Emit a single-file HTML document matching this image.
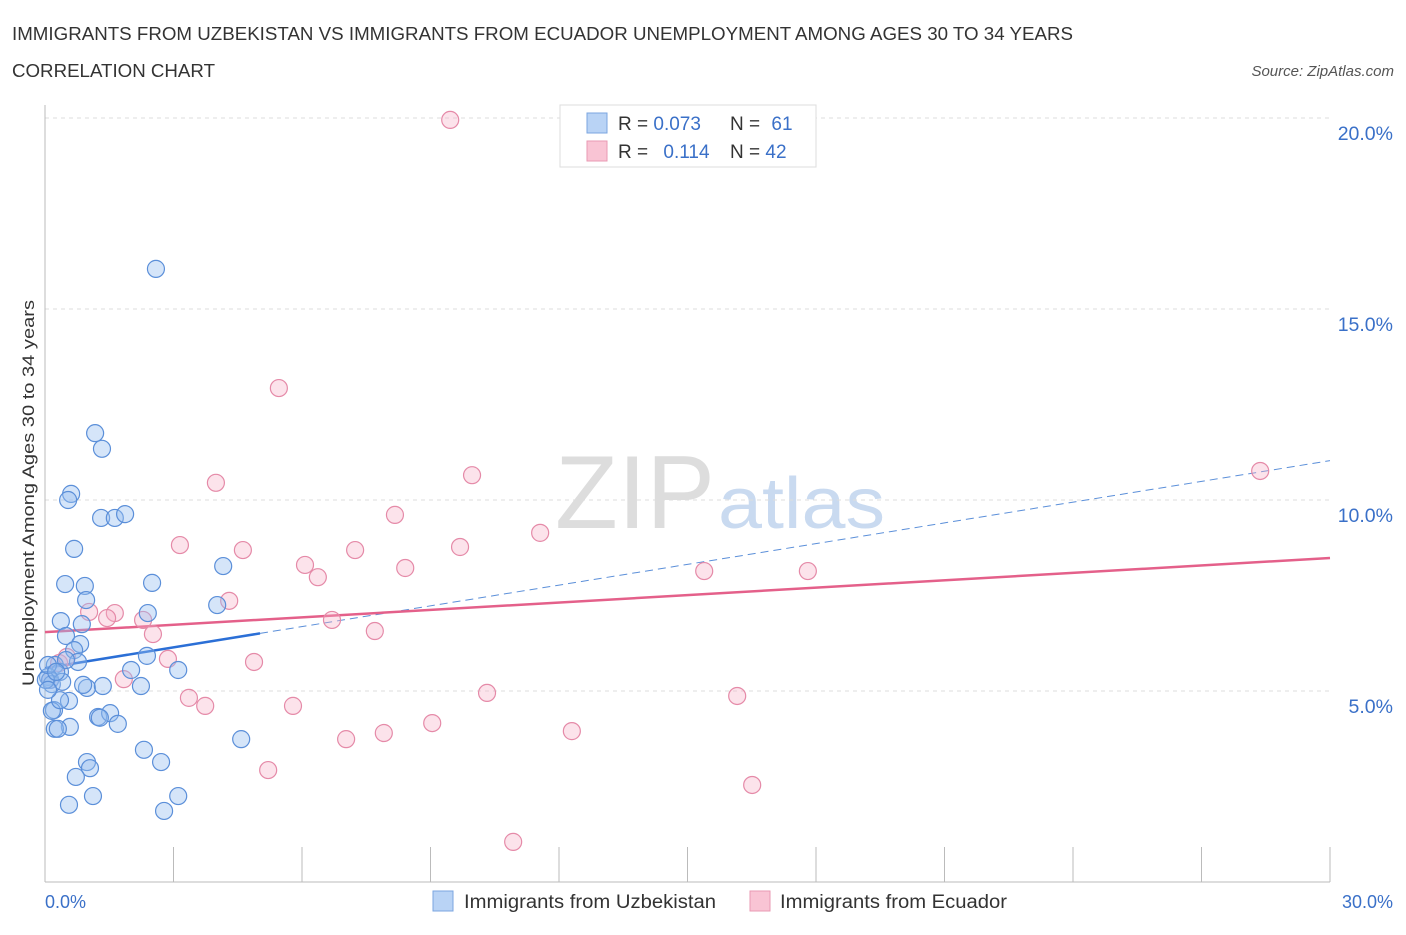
<!DOCTYPE html>
<html><head><meta charset="utf-8"><style>
body{margin:0;background:#fff;font-family:"Liberation Sans",sans-serif;}
svg text{font-family:"Liberation Sans",sans-serif;}
</style></head><body>
<svg id="chart" width="1406" height="930" viewBox="0 0 1406 930" xmlns="http://www.w3.org/2000/svg">
<text x="12" y="40" font-size="18" fill="#333" textLength="1061" lengthAdjust="spacingAndGlyphs">IMMIGRANTS FROM UZBEKISTAN VS IMMIGRANTS FROM ECUADOR UNEMPLOYMENT AMONG AGES 30 TO 34 YEARS</text>
<text x="12" y="77" font-size="18" fill="#333" textLength="203" lengthAdjust="spacingAndGlyphs">CORRELATION CHART</text>
<text x="1394" y="76" font-size="15" fill="#555" text-anchor="end" font-style="italic">Source: ZipAtlas.com</text>
<text x="555" y="528" font-size="104" fill="#ddd" font-family="Liberation Serif" textLength="160" lengthAdjust="spacingAndGlyphs">ZIP</text>
<text x="718" y="528" font-size="72" fill="#c9daf0" textLength="167" lengthAdjust="spacingAndGlyphs">atlas</text>
<g id="grid"></g>
<g id="axes"></g>
<g id="trends"></g>
<g id="points"></g>
<text transform="translate(34,493) rotate(-90)" font-size="17" fill="#333" text-anchor="middle" textLength="386" lengthAdjust="spacingAndGlyphs">Unemployment Among Ages 30 to 34 years</text>
<text x="45" y="908" font-size="18" fill="#3a70c8">0.0%</text>
<text x="1393" y="908" font-size="18" fill="#3a70c8" text-anchor="end">30.0%</text>
<g>
<rect x="560" y="105" width="256" height="62" fill="#fff" stroke="#ddd"/>
<rect x="587" y="113" width="20" height="20" fill="#b9d3f5" stroke="#7ba6e0"/>
<rect x="587" y="141" width="20" height="20" fill="#f9c4d4" stroke="#e99ab3"/>
<text x="618" y="130" font-size="19" fill="#333">R = <tspan fill="#3a70c8">0.073</tspan></text>
<text x="730" y="130" font-size="19" fill="#333">N = <tspan fill="#3a70c8" dx="6">61</tspan></text>
<text x="618" y="158" font-size="19" fill="#333">R = <tspan fill="#3a70c8" dx="10">0.114</tspan></text>
<text x="730" y="158" font-size="19" fill="#333">N = <tspan fill="#3a70c8">42</tspan></text>
</g>
<g>
<rect x="433" y="891" width="20" height="20" fill="#b9d3f5" stroke="#7ba6e0"/>
<text x="464" y="908" font-size="19" fill="#333" textLength="252" lengthAdjust="spacingAndGlyphs">Immigrants from Uzbekistan</text>
<rect x="750" y="891" width="20" height="20" fill="#f9c4d4" stroke="#e99ab3"/>
<text x="780" y="908" font-size="19" fill="#333" textLength="227" lengthAdjust="spacingAndGlyphs">Immigrants from Ecuador</text>
</g>
</svg>
<script>
const yTicks=[5,10,15,20];
const yTickLabels=["5.0%","10.0%","15.0%","20.0%"];
const xTicks=[0,3,6,9,12,15,18,21,24,27,30];
const blueX=[2.59,1.17,1.33,0.61,0.54,1.31,1.63,1.87,0.68,0.47,0.93,2.50,4.16,0.96,0.37,0.86,2.40,4.02,0.49,0.82,0.68,0.77,2.01,2.38,3.11,0.23,0.35,0.07,0.12,0.16,0.40,0.98,1.35,2.24,0.89,0.56,0.21,0.16,1.24,1.52,1.70,0.58,0.23,0.30,4.58,2.31,2.71,0.98,1.05,0.72,1.12,3.11,0.56,2.78,0.02,0.35,0.49,0.07,0.07,1.28,0.26];
const blueY=[16.05,11.75,11.34,10.16,10.0,9.53,9.53,9.63,8.72,7.80,7.75,7.83,8.27,7.38,6.83,6.75,7.04,7.25,6.44,6.23,6.07,5.76,5.55,5.92,5.55,5.68,5.50,5.37,5.29,5.18,5.24,5.08,5.13,5.13,5.16,4.74,4.50,4.48,4.32,4.42,4.14,4.06,4.01,4.01,3.74,3.46,3.14,3.14,2.98,2.75,2.25,2.25,2.02,1.86,5.29,4.76,5.81,5.68,5.03,4.30,5.50];
const pinkX=[9.46,5.46,3.99,9.97,8.17,11.56,3.15,4.62,7.24,9.69,6.07,6.37,8.41,15.39,17.81,28.37,4.30,1.03,1.63,1.45,2.29,2.52,6.70,7.70,2.87,4.88,0.33,0.51,1.84,3.36,3.74,5.79,10.32,16.16,9.04,12.30,7.91,7.03,5.21,16.51,10.93,0.12];
const pinkY=[19.95,12.93,10.45,10.65,9.61,9.14,8.82,8.69,8.69,8.77,8.30,7.98,8.22,8.14,8.14,10.76,7.36,7.07,7.04,6.91,6.86,6.49,6.86,6.57,5.84,5.76,5.73,5.89,5.31,4.82,4.61,4.61,4.95,4.87,4.16,3.95,3.90,3.74,2.93,2.54,1.05,5.29];
const blueTrend=[5.60,0.181];
const pinkTrend=[6.54,0.0647];
const X0=45,X1=1330,Y0=882,Y20=118;
const sx=v=>X0+(X1-X0)*v/30;
const sy=v=>Y0-(Y0-Y20)*v/20;
const NS="http://www.w3.org/2000/svg";
function mk(tag,attrs,parent){const e=document.createElementNS(NS,tag);for(const k in attrs)e.setAttribute(k,attrs[k]);document.getElementById(parent).appendChild(e);return e;}
yTicks.forEach((t,i)=>{
 const l=mk('line',{x1:X0,x2:X1,y1:sy(t),y2:sy(t),stroke:'#ddd','stroke-dasharray':'4,4'},'grid');
 
 
 const tx=mk('text',{x:1393,y:sy(t)+22,'font-size':19.5,fill:'#3a70c8','text-anchor':'end'},'grid');
 tx.textContent=yTickLabels[i];
 
 
});
const ya=mk('line',{x1:X0,x2:X0,y1:105,y2:Y0,stroke:'#bbb'},'axes');


const xa=mk('line',{x1:X0,x2:X1,y1:Y0,y2:Y0,stroke:'#bbb'},'axes');


xTicks.forEach(t=>{
 const l=mk('line',{x1:sx(t),x2:sx(t),y1:847,y2:Y0,stroke:'#bbb'},'axes');
 
 
});
function pts(xs,ys,fill,stroke,name){
 xs.forEach((x,i)=>{
  const c=mk('circle',{cx:sx(x),cy:sy(ys[i]),r:8.5,fill:fill,stroke:stroke,'stroke-width':1.2},'points');
  
  
 });
}
pts(pinkX,pinkY,'rgba(245,175,198,0.35)','#e58aa8','ecuador-point');
pts(blueX,blueY,'rgba(150,190,240,0.4)','#5b8fd9','uzbekistan-point');
const bl=mk('line',{x1:sx(0),y1:sy(blueTrend[0]),x2:sx(5.02),y2:sy(blueTrend[0]+blueTrend[1]*5.02),stroke:'#2b6fd6','stroke-width':2.5},'trends');


const bd=mk('line',{x1:sx(5.02),y1:sy(blueTrend[0]+blueTrend[1]*5.02),x2:sx(30),y2:sy(blueTrend[0]+blueTrend[1]*30),stroke:'#5b8fd9','stroke-width':1,'stroke-dasharray':'8,5'},'trends');


const pl=mk('line',{x1:sx(0),y1:sy(pinkTrend[0]),x2:sx(30),y2:sy(pinkTrend[0]+pinkTrend[1]*30),stroke:'#e4608a','stroke-width':2.5},'trends');


</script>
</body></html>
